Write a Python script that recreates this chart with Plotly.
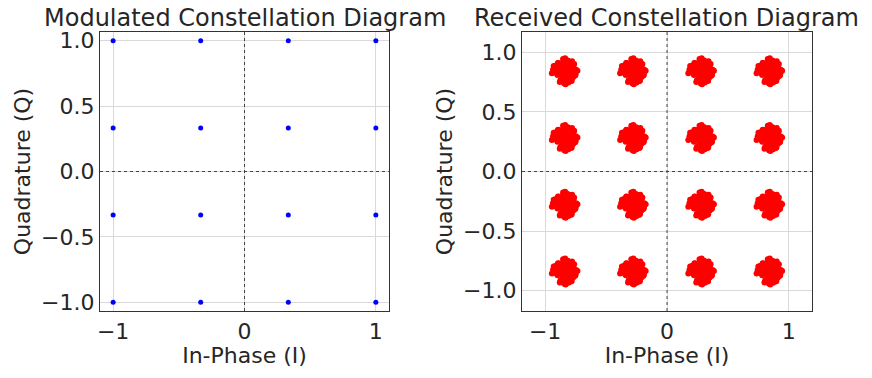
import plotly.graph_objects as go

# Ideal 16-QAM points (left panel)
ideal_levels = [-1.0, -1/3, 1/3, 1.0]

# Received cluster centres (right panel)
rx_levels = [-0.84, -0.28, 0.28, 0.84]

# Hand-read scatter offsets around each received cluster centre
noise_i = [0.016, -0.044, 0.066, -0.010, 0.035, -0.079, 0.005, 0.051, -0.029, 0.086,
           -0.061, 0.023, -0.004, 0.040, -0.072, 0.012, 0.094, -0.036, 0.058, -0.020,
           0.031, -0.049, 0.075, -0.090, 0.001, 0.046, -0.025, 0.062, -0.055, 0.018,
           -0.034, 0.082, -0.008, 0.038, -0.068, 0.027, -0.016, 0.053, -0.043, 0.009,
           0.072, -0.059, 0.022, -0.096, 0.047, -0.003, 0.034, -0.075, 0.014, 0.061,
           -0.031, 0.090, -0.048, 0.004, 0.042, -0.021, 0.068, -0.064, 0.025, -0.040,
           0.105, -0.105, 0.008, -0.013, 0.078, -0.083, 0.028, -0.052, 0.057, -0.006,
           0.019, -0.037, 0.044, -0.070, 0.003, 0.064, -0.023, 0.050, -0.011, 0.033,
           -0.057, 0.011, -0.028, 0.070, -0.046, 0.088, -0.085, 0.024, -0.001, 0.039,
           0.006, -0.018, 0.027, -0.032, 0.013, 0.041, -0.009, -0.026, 0.020, 0.000,
           -0.015, 0.030, -0.038, 0.010, 0.036, -0.022, 0.002, 0.024, -0.006, -0.030]
noise_q = [-0.053, 0.029, 0.008, 0.074, -0.023, 0.040, -0.086, 0.057, 0.017, -0.035,
           -0.005, 0.088, -0.066, 0.032, 0.049, -0.045, 0.013, 0.064, -0.078, 0.021,
           -0.094, 0.004, -0.038, 0.044, 0.081, -0.061, 0.026, -0.016, 0.069, 0.052,
           -0.073, 0.010, 0.098, -0.027, -0.012, 0.060, -0.051, -0.082, 0.036, 0.020,
           0.047, -0.031, -0.057, 0.014, 0.077, -0.101, 0.055, -0.009, -0.042, 0.085,
           0.035, -0.020, 0.023, 0.110, -0.069, 0.051, -0.048, -0.003, 0.092, -0.090,
           0.005, -0.016, -0.108, 0.104, 0.062, 0.030, -0.034, 0.071, -0.060, 0.018,
           0.042, -0.011, -0.075, 0.026, 0.058, -0.040, 0.001, 0.037, -0.064, 0.083,
           -0.022, 0.066, 0.012, -0.047, 0.028, -0.030, 0.015, -0.088, 0.073, -0.056,
           0.021, -0.007, -0.019, 0.011, 0.034, -0.027, 0.003, 0.016, -0.040, 0.025,
           -0.031, 0.009, 0.039, -0.014, -0.002, 0.045, -0.024, -0.010, 0.031, 0.006]

W, H = 872, 378
FONT = 'DejaVu Sans, sans-serif'
TXT = '#262626'
OFF = 8  # the page body adds 8px; positions below are shifted to compensate

mod_i = [i for q in ideal_levels for i in ideal_levels]
mod_q = [q for q in ideal_levels for i in ideal_levels]

rx_i, rx_q = [], []
for q in rx_levels:
    for i in rx_levels:
        rx_i += [i + d for d in noise_i]
        rx_q += [q + d for d in noise_q]

fig = go.Figure()
fig.add_trace(go.Scatter(x=mod_i, y=mod_q, mode='markers', xaxis='x', yaxis='y',
                         marker=dict(color='blue', size=5), showlegend=False))
fig.add_trace(go.Scatter(x=rx_i, y=rx_q, mode='markers', xaxis='x2', yaxis='y2',
                         marker=dict(color='red', size=6), showlegend=False))

axis_common = dict(showgrid=True, gridcolor='#d9d9d9', gridwidth=1,
                   showline=True, linecolor='#333333', linewidth=1.2, mirror=True,
                   zeroline=False, ticks='', ticklen=0, automargin=False,
                   tickfont=dict(size=22, color=TXT, family=FONT))
xt = dict(tickvals=[-1, 0, 1], ticktext=['\u22121', '0', '1'],
          title=dict(text='In-Phase (I)', font=dict(size=22, family=FONT), standoff=4))
yt = dict(tickvals=[-1, -0.5, 0, 0.5, 1],
          ticktext=['\u22121.0', '\u22120.5', '0.0', '0.5', '1.0'],
          ticklabelstandoff=0,
          title=dict(text='Quadrature (Q)', font=dict(size=22, family=FONT), standoff=4))

ydom = [(H - 311 + OFF) / H, (H - 32 + OFF) / H]
fig.update_layout(
    width=W, height=H,
    margin=dict(l=0, r=0, t=0, b=0),
    paper_bgcolor='white', plot_bgcolor='white',
    font=dict(family=FONT, color=TXT),
    xaxis=dict(axis_common, **xt, domain=[(100 - OFF)/W, (389 - OFF)/W], range=[-1.1, 1.1], anchor='y'),
    yaxis=dict(axis_common, **yt, domain=ydom, range=[-1.066, 1.066], anchor='x'),
    xaxis2=dict(axis_common, **xt, domain=[(522 - OFF)/W, (812 - OFF)/W], range=[-1.19, 1.19], anchor='y2'),
    yaxis2=dict(axis_common, **yt, domain=ydom, range=[-1.17, 1.17], anchor='x2'),
)

# dotted zero lines
for xr, yr in [('x', 'y'), ('x2', 'y2')]:
    fig.add_shape(type='line', xref=xr, yref=f'{yr} domain', x0=0, x1=0, y0=0, y1=1,
                  line=dict(color='#444444', width=1, dash='dot'), layer='above')
    fig.add_shape(type='line', xref=f'{xr} domain', yref=yr, x0=0, x1=1, y0=0, y1=0,
                  line=dict(color='#444444', width=1, dash='dot'), layer='above')

fig.add_annotation(text='Modulated Constellation Diagram', x=(245 - OFF)/W, y=1 - (18 - OFF)/H,
                   xref='paper', yref='paper', xanchor='center', yanchor='middle',
                   showarrow=False, font=dict(size=24, color=TXT, family=FONT))
fig.add_annotation(text='Received Constellation Diagram', x=(666 - OFF)/W, y=1 - (18 - OFF)/H,
                   xref='paper', yref='paper', xanchor='center', yanchor='middle',
                   showarrow=False, font=dict(size=24, color=TXT, family=FONT))

fig.write_html("out.html")
